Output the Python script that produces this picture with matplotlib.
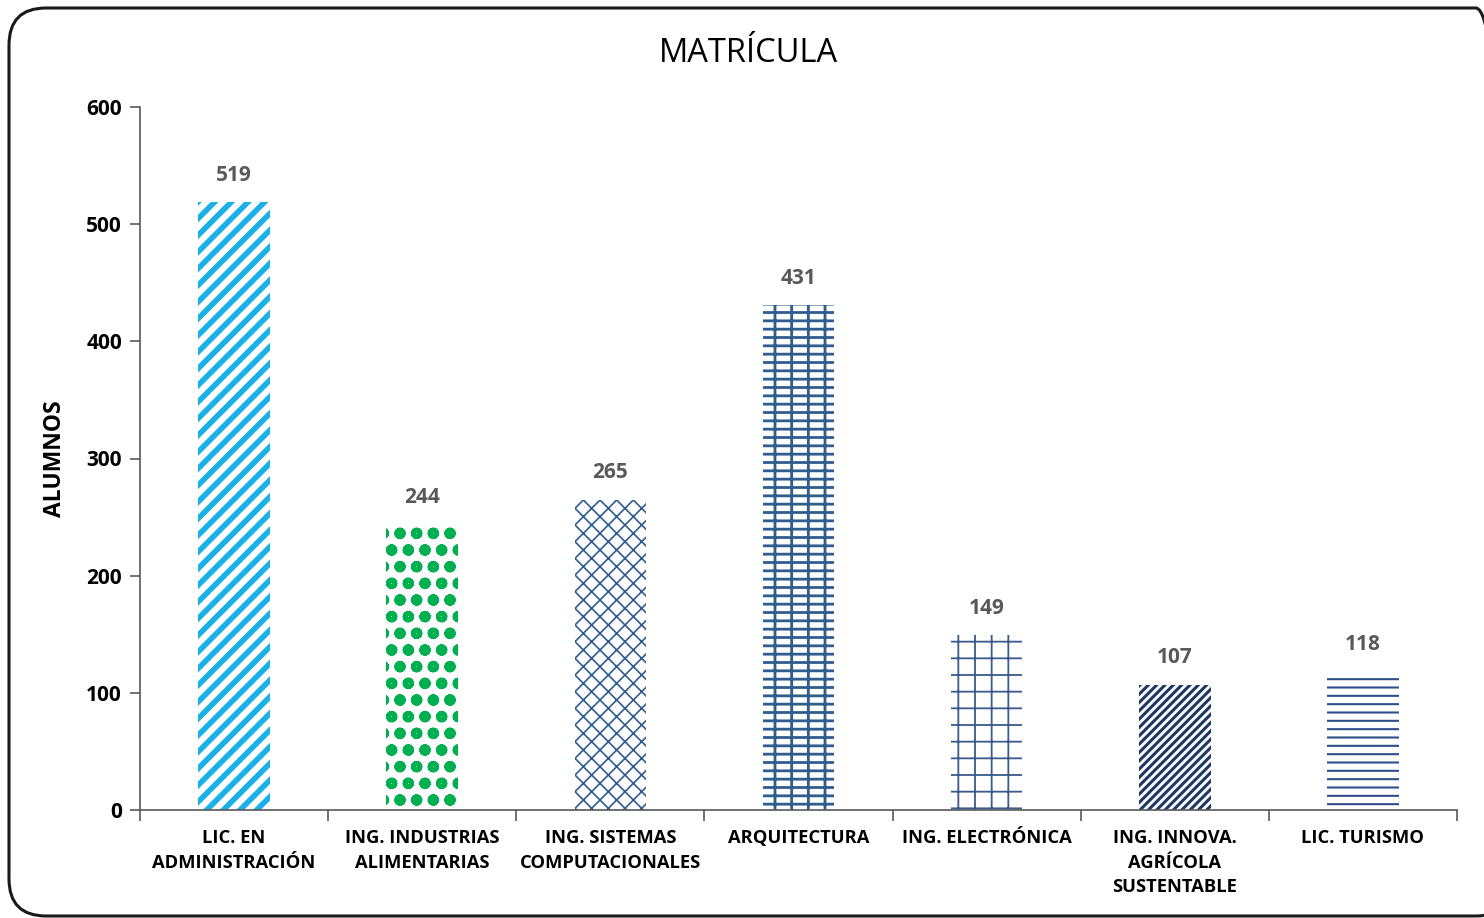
import matplotlib
matplotlib.use("Agg")
import matplotlib.pyplot as plt
from matplotlib.patches import FancyBboxPatch
import numpy as np

categories = [
    "LIC. EN\nADMINISTRACIÓN",
    "ING. INDUSTRIAS\nALIMENTARIAS",
    "ING. SISTEMAS\nCOMPUTACIONALES",
    "ARQUITECTURA",
    "ING. ELECTRÓNICA",
    "ING. INNOVA.\nAGRÍCOLA\nSUSTENTABLE",
    "LIC. TURISMO",
]
alumnos = [519, 244, 265, 431, 149, 107, 118]

hatch_colors = ["#1ab0e8", "#00b050", "#2f5d8f", "#2f5d8f", "#3a5a8a", "#1f3864", "#2f4f8a"]
hatches = ["//", "o", "xx", "--|", "+", "////", "--"]
hatch_widths = [4.0, 3.5, 1.2, 2.0, 1.3, 2.2, 1.5]

plt.rcParams["font.family"] = ["Open Sans", "DejaVu Sans"]

W, H = 1484, 918
fig = plt.figure(figsize=(W / 100, H / 100), dpi=100)
fig.patch.set_facecolor("white")

# rounded frame like the Excel chart area
frame = FancyBboxPatch((9 / W, 2 / H), (W + 20) / W, 908 / H,
                       boxstyle="round,pad=0,rounding_size=0.025",
                       transform=fig.transFigure, facecolor="none",
                       edgecolor="#1a1a1a", linewidth=2.2, clip_on=False,
                       mutation_aspect=W / H)
fig.patches.append(frame)

ax = fig.add_axes([140 / W, 108 / H, 1317 / W, 703 / H])
x = np.arange(len(categories))

for i in range(len(categories)):
    plt.rcParams["hatch.linewidth"] = hatch_widths[i]
    b = ax.bar(x[i], alumnos[i], width=0.38, color="white",
               edgecolor=hatch_colors[i], linewidth=0, hatch=hatches[i])
    for p in b:
        if hasattr(p, "set_hatch_linewidth"):
            p.set_hatch_linewidth(hatch_widths[i])
    ax.text(x[i], alumnos[i] + 14, str(alumnos[i]), ha="center", va="bottom",
            fontsize=15, fontweight="bold", color="#595959")

ax.set_xlim(-0.5, len(categories) - 0.5)
ax.set_ylim(0, 600)
ax.set_yticks([0, 100, 200, 300, 400, 500, 600])
ax.tick_params(axis="y", labelsize=15, length=7, width=1.2, color="#595959", pad=6)
for t in ax.get_yticklabels():
    t.set_fontweight("bold")

ax.set_xticks(x)
ax.set_xticklabels(categories, fontsize=13.2, fontweight="bold", linespacing=1.45)
ax.tick_params(axis="x", length=0, pad=14)
ax.set_xticks(np.arange(-0.5, len(categories)), minor=True)
ax.tick_params(axis="x", which="minor", length=8, width=1.2, color="#595959")

ax.spines["top"].set_visible(False)
ax.spines["right"].set_visible(False)
ax.spines["left"].set_color("#595959")
ax.spines["bottom"].set_color("#595959")
ax.spines["left"].set_linewidth(1.2)
ax.spines["bottom"].set_linewidth(1.2)

ax.set_ylabel("ALUMNOS", fontsize=16.5, fontweight="bold", labelpad=14)
fig.text(748 / W, 1 - 54 / H, "MATRÍCULA", ha="center", va="center", fontsize=23.5)

fig.savefig("out.png", dpi=100)
